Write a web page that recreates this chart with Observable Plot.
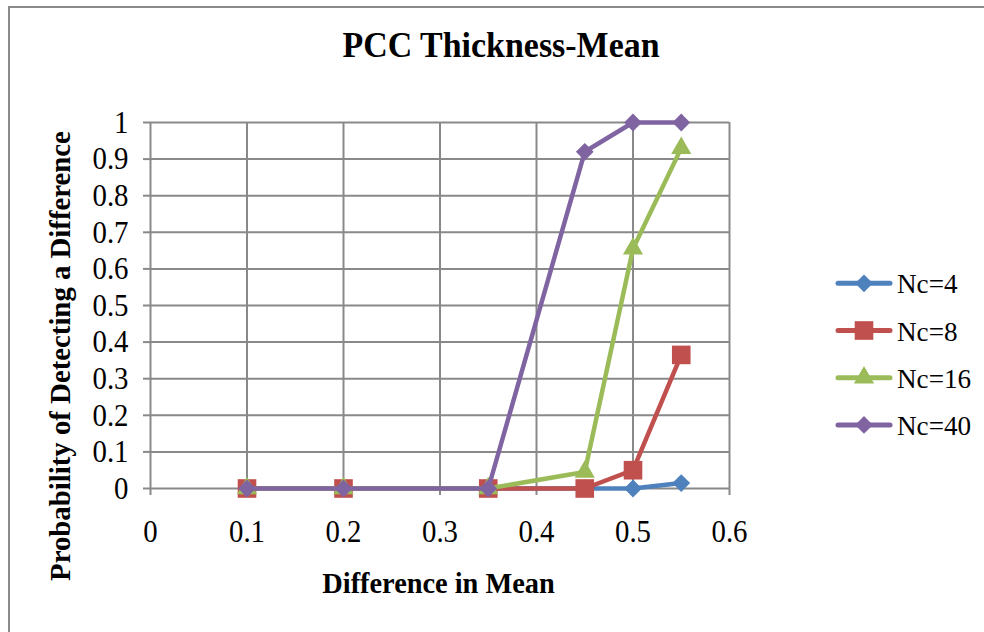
<!DOCTYPE html>
<html>
<head>
<meta charset="utf-8">
<script src="https://cdn.jsdelivr.net/npm/d3@7"></script>
<script src="https://cdn.jsdelivr.net/npm/@observablehq/plot@0.6"></script>
<style>
  html, body { margin: 0; padding: 0; background: #fff; overflow: hidden; }
  #chart { position: relative; width: 984px; height: 632px; overflow: hidden;
           font-family: "Liberation Serif", "Times New Roman", serif; }
  #frame { position: absolute; left: 8px; top: 6px; width: 1200px; height: 1000px;
           border-left: 2px solid #8a8a8a; border-top: 2px solid #8a8a8a; }
  #chart svg { position: absolute; left: 0; top: 0; }
</style>
</head>
<body>
<div id="chart"><div id="frame"></div></div>
<script>
// Difference in mean (x) and detection probability for each sample size Nc
const meanDiff = [0.1, 0.2, 0.35, 0.45, 0.5, 0.55];
const probNc4  = [0, 0, 0, 0, 0, 0.015];
const probNc8  = [0, 0, 0, 0, 0.05, 0.365];
const probNc16 = [0, 0, 0, 0.045, 0.655, 0.93];
const probNc40 = [0, 0, 0, 0.92, 1, 1];

const seriesNames = ["Nc=4", "Nc=8", "Nc=16", "Nc=40"];
const seriesValues = [probNc4, probNc8, probNc16, probNc40];

const xTicks = [0, 0.1, 0.2, 0.3, 0.4, 0.5, 0.6];
const xTickLabels = ["0", "0.1", "0.2", "0.3", "0.4", "0.5", "0.6"];
const yTicks = [0, 0.1, 0.2, 0.3, 0.4, 0.5, 0.6, 0.7, 0.8, 0.9, 1];
const yTickLabels = ["0", "0.1", "0.2", "0.3", "0.4", "0.5", "0.6", "0.7", "0.8", "0.9", "1"];

const titleText = "PCC Thickness-Mean";
const xLabelText = "Difference in Mean";
const yLabelText = "Probability of Detecting a Difference";

// Styling per series
const seriesColors = ["#4F81BD", "#C0504D", "#9BBB59", "#8064A2"];
const seriesSymbols = ["diamond2", "square", "triangle", "diamond2"];
const d3Symbols = [d3.symbolDiamond2, d3.symbolSquare, d3.symbolTriangle, d3.symbolDiamond2];
const seriesR = [8, 10.5, 7.5, 8];

const gridColor = "#898989";
const lineWidth = 4.5;

const rows = seriesNames.map((name, s) =>
  meanDiff.map((x, i) => ({x, y: seriesValues[s][i], series: name}))
);

// Each series: line then markers, drawn in order so later series sit on top
const seriesMarks = rows.flatMap((data, s) => [
  Plot.line(data, {x: "x", y: "y", stroke: seriesColors[s], strokeWidth: lineWidth,
                   strokeLinejoin: "round", strokeLinecap: "round"}),
  Plot.dot(data, {x: "x", y: "y", symbol: () => seriesSymbols[s], r: seriesR[s],
                  fill: seriesColors[s], stroke: null})
]);

const chart = Plot.plot({
  width: 984,
  height: 632,
  marginLeft: 150,
  marginRight: 255,
  marginTop: 122,
  marginBottom: 144,
  style: {fontFamily: '"Liberation Serif", "Times New Roman", serif', background: "transparent", color: "#000"},
  x: {domain: [0, 0.6]},
  y: {domain: [0, 1]},
  symbol: {type: "identity"},
  marks: [
    Plot.gridY(yTicks.filter(d => d > 0), {stroke: gridColor, strokeOpacity: 1, strokeWidth: 2}),
    Plot.gridX(xTicks.filter(d => d > 0), {stroke: gridColor, strokeOpacity: 1, strokeWidth: 2}),
    Plot.ruleX([0], {stroke: gridColor, strokeWidth: 2}),
    Plot.ruleY([0], {stroke: gridColor, strokeWidth: 2}),
    Plot.axisY(yTicks, {tickSize: 7, tickPadding: 15, stroke: gridColor, strokeWidth: 2, fill: "#000",
                        fontSize: 32, label: null,
                        tickFormat: d => yTickLabels[yTicks.indexOf(d)]}),
    Plot.axisX(xTicks, {tickSize: 7, tickPadding: 24, stroke: gridColor, strokeWidth: 2, fill: "#000",
                        fontSize: 32, label: null,
                        tickFormat: d => xTickLabels[xTicks.indexOf(d)]}),
    ...seriesMarks
  ]
});

document.getElementById("chart").appendChild(chart);

// Slightly condensed tick label glyphs
chart.querySelectorAll('g[aria-label="y-axis tick label"] text, g[aria-label="x-axis tick label"] text')
  .forEach(t => {
    const tr = t.getAttribute("transform") || "";
    t.setAttribute("transform", tr + " scale(0.9,1)");
  });

const svg = d3.select(chart);
const font = '"Liberation Serif", "Times New Roman", serif';

// Chart title
svg.append("text")
  .attr("transform", "translate(501,57) scale(0.97,1)")
  .attr("text-anchor", "middle")
  .attr("font-family", font).attr("font-weight", "bold").attr("font-size", 35)
  .attr("fill", "#000")
  .text(titleText);

// Axis titles
svg.append("text")
  .attr("transform", "translate(438.5,593) scale(0.945,1)")
  .attr("text-anchor", "middle")
  .attr("font-family", font).attr("font-weight", "bold").attr("font-size", 30)
  .attr("fill", "#000")
  .text(xLabelText);

svg.append("text")
  .attr("transform", "translate(70,356) rotate(-90) scale(0.96,1)")
  .attr("text-anchor", "middle")
  .attr("font-family", font).attr("font-weight", "bold").attr("font-size", 30)
  .attr("fill", "#000")
  .text(yLabelText);

// Legend
const legend = svg.append("g").attr("aria-label", "legend");
seriesNames.forEach((name, s) => {
  const cy = 283.3 + s * 47.2;
  const g = legend.append("g");
  g.append("line")
    .attr("x1", 838).attr("x2", 890).attr("y1", cy).attr("y2", cy)
    .attr("stroke", seriesColors[s]).attr("stroke-width", lineWidth + 0.5).attr("stroke-linecap", "round");
  g.append("path")
    .attr("transform", `translate(864,${cy})`)
    .attr("d", d3.symbol(d3Symbols[s], seriesR[s] * seriesR[s] * Math.PI)())
    .attr("fill", seriesColors[s]);
  g.append("text")
    .attr("transform", `translate(897,${cy + 10}) scale(0.97,1)`)
    .attr("text-anchor", "start")
    .attr("font-family", font).attr("font-size", 28)
    .attr("fill", "#000")
    .text(name);
});
</script>
</body>
</html>
